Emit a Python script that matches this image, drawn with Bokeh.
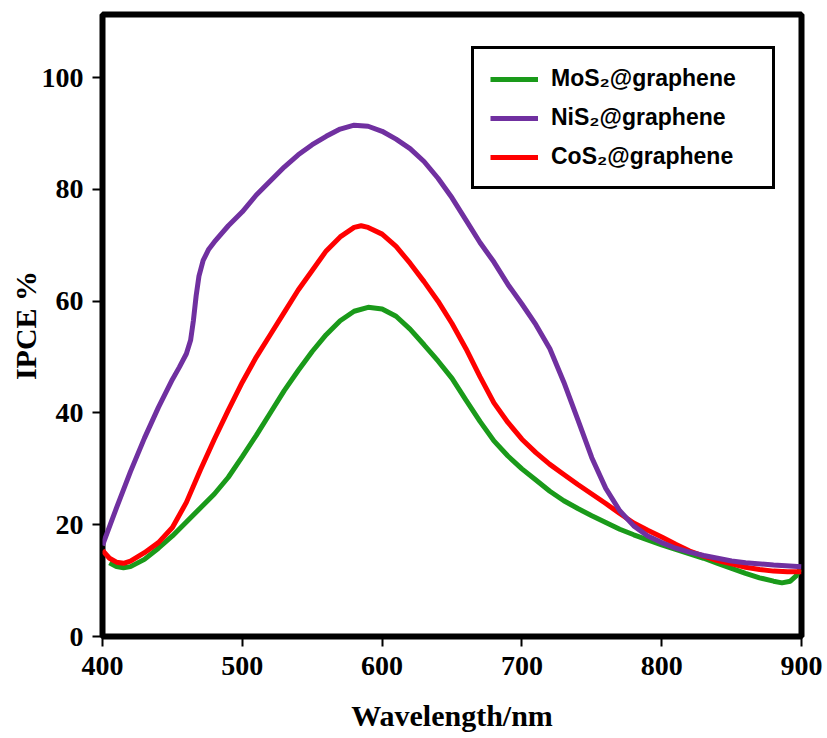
from bokeh.plotting import figure
from bokeh.models import Range1d, FixedTicker, Legend, LegendItem
from bokeh.embed import file_html
from bokeh.resources import INLINE

# ---- data ----
wl_mos2 = [405, 410, 415, 420, 430, 440, 450, 460, 470, 480, 490, 500, 510, 520, 530, 540,
           550, 560, 570, 580, 590, 600, 610, 620, 630, 640, 650, 660, 670, 680, 690, 700,
           710, 720, 730, 740, 750, 760, 770, 780, 790, 800, 810, 820, 830, 840, 850, 860,
           870, 880, 886, 892, 896, 899]
ipce_mos2 = [13.2, 12.5, 12.3, 12.5, 13.8, 15.8, 18.0, 20.5, 23.0, 25.5, 28.5, 32.2, 36.0, 40.0,
             44.0, 47.6, 51.0, 54.0, 56.5, 58.2, 58.9, 58.6, 57.3, 55.0, 52.2, 49.3, 46.2, 42.3,
             38.5, 35.0, 32.3, 30.0, 28.0, 26.0, 24.3, 22.9, 21.6, 20.4, 19.2, 18.2, 17.3, 16.4,
             15.6, 14.8, 14.0, 13.1, 12.2, 11.3, 10.5, 9.9, 9.6, 9.9, 10.8, 12.0]

wl_nis2 = [400, 410, 420, 430, 440, 450, 455, 460, 463, 465, 467, 469, 472, 476, 480, 490, 500,
           510, 520, 530, 540, 550, 560, 570, 580, 590, 600, 610, 620, 630, 640, 650, 660, 670,
           680, 690, 700, 710, 720, 730, 740, 750, 760, 770, 780, 790, 800, 810, 820, 830, 840,
           850, 860, 880, 900]
ipce_nis2 = [16.3, 23.0, 29.5, 35.5, 41.0, 46.0, 48.2, 50.6, 53.0, 56.5, 61.0, 64.5, 67.3, 69.3,
             70.6, 73.5, 76.0, 79.0, 81.5, 84.0, 86.2, 88.0, 89.5, 90.8, 91.5, 91.3, 90.4, 89.0,
             87.3, 85.0, 82.0, 78.5, 74.5, 70.5, 67.0, 63.0, 59.5, 55.8, 51.5, 45.5, 38.8, 32.0,
             26.5, 22.5, 19.8, 18.0, 16.8, 15.8, 15.1, 14.5, 14.0, 13.5, 13.2, 12.8, 12.5]

wl_cos2 = [400, 405, 410, 415, 420, 430, 440, 450, 460, 470, 480, 490, 500, 510, 520, 530, 540,
           550, 560, 570, 580, 585, 590, 600, 610, 620, 630, 640, 650, 660, 670, 680, 690, 700,
           710, 720, 730, 740, 750, 760, 770, 780, 790, 800, 810, 820, 830, 840, 850, 860, 870,
           880, 890, 900]
ipce_cos2 = [15.4, 14.0, 13.3, 13.1, 13.5, 15.0, 16.8, 19.5, 24.0, 29.8, 35.3, 40.5, 45.5, 50.0,
             54.0, 58.0, 62.0, 65.5, 69.0, 71.5, 73.2, 73.5, 73.2, 72.0, 69.8, 66.8, 63.5, 60.0,
             56.0, 51.5, 46.5, 41.8, 38.3, 35.3, 32.9, 30.8, 29.0, 27.2, 25.5, 23.8, 22.0, 20.3,
             19.0, 17.8, 16.5, 15.3, 14.4, 13.6, 13.0, 12.4, 12.0, 11.7, 11.6, 11.6]

x_ticks = [400, 500, 600, 700, 800, 900]
y_ticks = [0, 20, 40, 60, 80, 100]

labels = ["MoS\u2082@graphene", "NiS\u2082@graphene", "CoS\u2082@graphene"]
colors = ["#1A9A1A", "#7030A0", "#FF0000"]

# ---- figure ----
p = figure(width=825, height=734, output_backend="svg", toolbar_location=None,
           x_range=Range1d(400, 900), y_range=Range1d(0, 111.3),
           min_border_left=102, min_border_right=24, min_border_top=14, min_border_bottom=94)

p.background_fill_color = "white"
p.border_fill_color = "white"
p.outline_line_color = "black"
p.outline_line_width = 6
p.xgrid.visible = False
p.ygrid.visible = False

r_mos2 = p.line(wl_mos2, ipce_mos2, line_color=colors[0], line_width=5)
r_cos2 = p.line(wl_cos2, ipce_cos2, line_color=colors[2], line_width=5)
r_nis2 = p.line(wl_nis2, ipce_nis2, line_color=colors[1], line_width=5)

for ax, ticks in ((p.xaxis[0], x_ticks), (p.yaxis[0], y_ticks)):
    ax.ticker = FixedTicker(ticks=ticks)
    ax.axis_line_color = None
    ax.major_tick_line_color = "black"
    ax.major_tick_line_width = 2
    ax.major_tick_out = 10
    ax.major_tick_in = 0
    ax.minor_tick_line_color = None
    ax.major_label_text_font = "Liberation Serif"
    ax.major_label_text_font_style = "bold"
    ax.major_label_text_font_size = "28px"
    ax.major_label_text_color = "black"
    ax.axis_label_text_font = "Liberation Serif"
    ax.axis_label_text_font_style = "bold"
    ax.axis_label_text_font_size = "30px"
    ax.axis_label_text_color = "black"

p.xaxis.axis_label = "Wavelength/nm"
p.yaxis.axis_label = "IPCE %"
p.xaxis.major_label_standoff = 10
p.yaxis.major_label_standoff = 9
p.xaxis.axis_label_standoff = 21
p.yaxis.axis_label_standoff = -3

legend = Legend(items=[LegendItem(label=labels[0], renderers=[r_mos2]),
                       LegendItem(label=labels[1], renderers=[r_nis2]),
                       LegendItem(label=labels[2], renderers=[r_cos2])],
                location=(369, 447))
legend.border_line_color = "black"
legend.border_line_alpha = 1.0
legend.border_line_width = 3
legend.background_fill_color = "white"
legend.background_fill_alpha = 1.0
legend.label_text_font = "Liberation Sans"
legend.label_text_font_style = "bold"
legend.label_text_font_size = "23px"
legend.label_text_color = "black"
legend.glyph_width = 48
legend.glyph_height = 26
legend.label_height = 26
legend.label_width = 205
legend.spacing = 12
legend.padding = 16
legend.label_standoff = 13
legend.margin = 0
p.add_layout(legend)

open("out.html", "w").write(file_html(p, INLINE))
